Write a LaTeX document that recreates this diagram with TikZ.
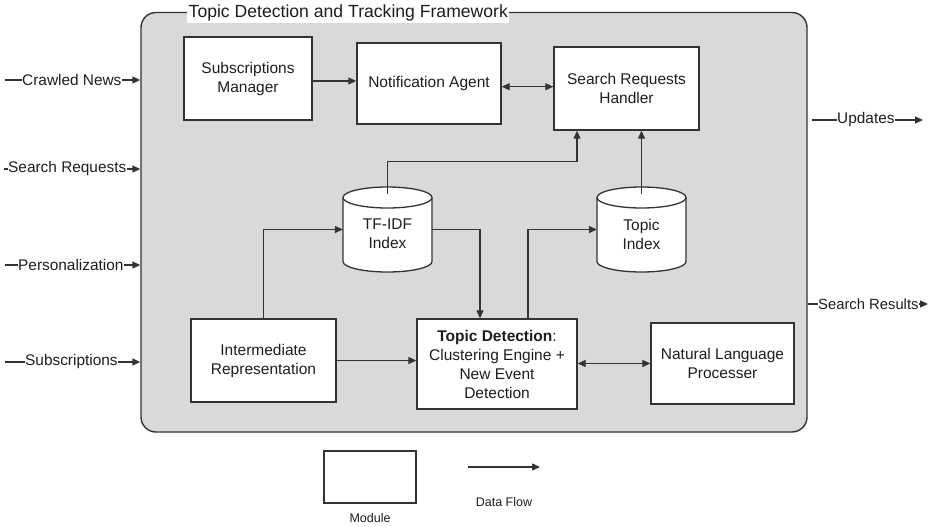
\documentclass[tikz,border=0pt]{standalone}
\usepackage{fontspec}
\setmainfont{Liberation Sans}
\usetikzlibrary{arrows.meta}
\definecolor{framegray}{HTML}{D9D9D9}
\definecolor{linegray}{HTML}{333333}
\definecolor{txt}{HTML}{1E1E1E}
\newcommand{\dbcyl}[2]{%
  \draw[line width=1.3pt, draw=linegray, fill=white]
    ({#1-44.5},{-#2-10.5}) -- ({#1-44.5},{-#2-74.5})
    arc[start angle=180,end angle=360,x radius=44.5,y radius=10.5]
    -- ({#1+44.5},{-#2-10.5})
    arc[start angle=0,end angle=180,x radius=44.5,y radius=10.5] -- cycle;
  \draw[line width=1.3pt, draw=linegray]
    ({#1-44.5},{-#2-10.5}) arc[start angle=180,end angle=360,x radius=44.5,y radius=10.5];}
\begin{document}
\begin{tikzpicture}[x=1pt,y=1pt,
  box/.style={draw=linegray, line width=1.4pt, fill=white, align=center,
    font=\fontsize{15.5}{19}\selectfont, text=txt, inner sep=0pt},
  cylnode/.style={draw=none, inner sep=0pt, minimum width=89, minimum height=85},
  cyltext/.style={align=center, font=\fontsize{15.5}{19}\selectfont, text=txt, inner sep=0pt},
  plain/.style={draw=linegray, line width=1.3pt},
  flow/.style={draw=linegray, line width=1.3pt, -{Triangle[length=8pt,width=7pt]}},
  biflow/.style={draw=linegray, line width=1.3pt, {Triangle[length=8pt,width=7pt]}-{Triangle[length=8pt,width=7pt]}},
  ext/.style={font=\fontsize{15.4}{18}\selectfont, text=txt, inner sep=0pt},
  legend/.style={font=\fontsize{12.5}{15}\selectfont, text=txt, inner sep=0pt},
  frame/.style={draw=linegray, line width=1.4pt, fill=framegray, rounded corners=15pt}
  ]
\useasboundingbox (0,0) rectangle (934,-527);

% framework
\node[frame, minimum width=666, minimum height=419.5] (frame) at (474,-222.25) {};
\node[anchor=west, fill=white, inner sep=1.5pt, font=\fontsize{17.6}{20}\selectfont, text=txt] (title) at (187,-13) {Topic Detection and Tracking Framework};

% modules
\node[box, minimum width=128, minimum height=83] (sm) at (248,-78.5) {Subscriptions\\Manager};
\node[box, minimum width=144, minimum height=81] (na) at (429,-83.5) {Notification Agent};
\node[box, minimum width=145, minimum height=83] (srh) at (626.5,-88.5) {Search Requests\\Handler};
\node[box, minimum width=145, minimum height=83] (ir) at (263.5,-360.5) {Intermediate\\Representation};
\node[box, minimum width=160, minimum height=90] (td) at (497,-364) {\textbf{Topic Detection}:\\Clustering Engine +\\New Event\\Detection};
\node[box, minimum width=143, minimum height=81] (nlp) at (722.5,-363.5) {Natural Language\\Processer};

% databases
\dbcyl{387.5}{187}
\node[cylnode] (tfidf) at (387.5,-229.5) {};
\node[cyltext] (tfidftext) at (387.5,-234) {TF-IDF\\Index};
\dbcyl{641.5}{187}
\node[cylnode] (tidx) at (641.5,-229.5) {};
\node[cyltext] (tidxtext) at (641.5,-234) {Topic\\Index};

% internal flows
\draw[flow] ([yshift=-2.5]sm.east) -- ([yshift=2.5]na.west);
\draw[biflow] ([yshift=-3.2]na.east) -- ([yshift=1.8]srh.west);
\draw[flow] ([yshift=-7]tfidf.north) -- ++(0,32) -| ([xshift=-49.5]srh.south);
\draw[flow] ([yshift=-7]tidx.north) -- (tidx.north |- srh.south);
\draw[flow] (ir.north) |- (tfidf.west);
\draw[flow] (tfidf.east) -| ([xshift=-17]td.north);
\draw[flow] ([xshift=31]td.north) |- (tidx.west);
\draw[flow] (ir.east) -- (ir.east -| td.west);
\draw[biflow] (td.east |- nlp.west) -- (nlp.west);

% external inputs
\node[ext, anchor=west] (cn) at (22,-80) {Crawled News};
\coordinate (cn0) at (5,-80);
\draw[plain] (cn0) -- (cn.west);
\draw[flow] (cn.east) -- (cn.east -| frame.west);

\node[ext, anchor=west] (sr) at (8,-169) {Search Requests};
\coordinate (sr0) at (4,-169);
\draw[plain] (sr0) -- (sr.west);
\draw[flow] (sr.east) -- (sr.east -| frame.west);

\node[ext, anchor=west] (pe) at (18,-265) {Personalization};
\coordinate (pe0) at (5,-265);
\draw[plain] (pe0) -- (pe.west);
\draw[flow] (pe.east) -- (pe.east -| frame.west);

\node[ext, anchor=west] (su) at (25,-362) {Subscriptions};
\coordinate (su0) at (5,-362);
\draw[plain] (su0) -- (su.west);
\draw[flow] (su.east) -- (su.east -| frame.west);

% external outputs
\node[ext, anchor=west] (up) at (837,-120) {Updates};
\coordinate (up0) at (812,-120);
\coordinate (up1) at (923,-120);
\draw[plain] (up0) -- (up.west);
\draw[flow] (up.east) -- (up1);

\node[ext, anchor=west, font=\fontsize{14.8}{18}\selectfont] (res) at (818,-304) {Search Results};
\coordinate (res1) at (928,-304);
\draw[plain] (res.west -| frame.east) -- (res.west);
\draw[flow] (res.east) -- (res1);

% legend
\node[box, minimum width=92, minimum height=52] (mod) at (370,-477) {};
\node[legend] (modtext) at (370,-518) {Module};
\coordinate (df0) at (468,-467);
\coordinate (df1) at (540,-467);
\draw[flow] (df0) -- (df1);
\node[legend] (dftext) at (504,-502) {Data Flow};
\end{tikzpicture}
\end{document}
